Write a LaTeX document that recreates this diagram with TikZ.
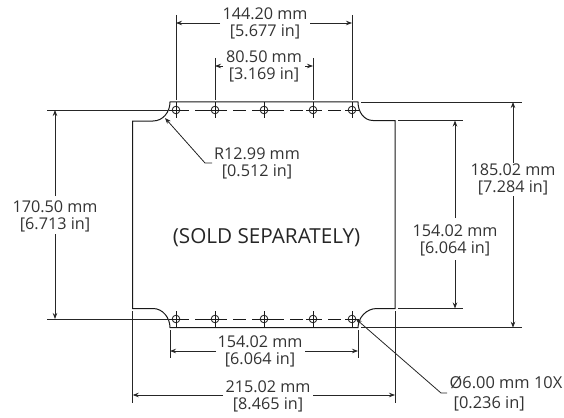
\documentclass[tikz,border=0pt]{standalone}
\usepackage{fontspec}
\setmainfont{Open Sans}
\usetikzlibrary{arrows.meta}
\tikzset{
  x=1pt,y=-1pt,
  outline/.style={line width=1pt,black!90},
  thin line/.style={line width=.8pt,black!85},
  dim/.style={thin line,-{Stealth[length=6pt,width=4.5pt]}},
  hole/.style={line width=.8pt,black!90},
  dimtext/.style={font=\fontsize{16.2}{17}\selectfont,text=black!80,align=center,inner sep=0pt},
}
\begin{document}
\begin{tikzpicture}
\useasboundingbox (0,0) rectangle (564,417);
% plate outline
\draw[outline] (132.7,121) -- (153,121) .. controls (163,121) and (170,112) .. (170,102) -- (358,102)
  .. controls (358,112) and (364,120.5) .. (373,120.5) -- (395,120.5) -- (395,308.5) -- (377,308.5)
  .. controls (366,308.5) and (358,318) .. (358,327.7) -- (170,327.7)
  .. controls (170,318) and (163,308.5) .. (153,308.5) -- (132.7,308.5) -- cycle;
% hole rows
\foreach \ry/\ya/\yb in {110/102/118,319/311/328}{
  \draw[hole,dash pattern=on 13pt off 6pt] (176,\ry) -- (352,\ry);
  \foreach \hx in {176,215,264,313,352}{
    \draw[hole] (\hx,\ry) circle[radius=3.8];
    \draw[hole] (\hx-7,\ry) -- (\hx+7,\ry) (\hx,\ya) -- (\hx,\yb);
  }
}
% extension lines
\draw[thin line] (47,110) -- (168,110) (47,319) -- (168,319);
\draw[thin line] (361,102) -- (522,102) (361,327.7) -- (522,327.7);
\draw[thin line] (398,120.5) -- (463,120.5) (398,308.5) -- (463,308.5);
\draw[thin line] (176,15) -- (176,100) (352,15) -- (352,100);
\draw[thin line] (215,58) -- (215,100) (313,58) -- (313,100);
\draw[thin line] (170,330) -- (170,358) (358,330) -- (358,358);
\draw[thin line] (132.7,311) -- (132.7,403) (395,311) -- (395,403);
% dimension texts
\node[dimtext] (d144) at (265,23.5) {144.20 mm\\{}[5.677 in]};
\node[dimtext] (d80) at (264,66) {80.50 mm\\{}[3.169 in]};
\node[dimtext] (dr) at (257,163) {R12.99 mm\\{}[0.512 in]};
\node[dimtext] (d170) at (55,216) {170.50 mm\\{}[6.713 in]};
\node[dimtext] (d185) at (513,179) {185.02 mm\\{}[7.284 in]};
\node[dimtext] (d154v) at (455,240) {154.02 mm\\{}[6.064 in]};
\node[dimtext] (d154h) at (260,351) {154.02 mm\\{}[6.064 in]};
\node[dimtext] (d215) at (268,396) {215.02 mm\\{}[8.465 in]};
\node[dimtext,align=left,anchor=west,font=\fontsize{16.4}{20}\selectfont] (dhole) at (449.5,394) {Ø6.00 mm 10X\\\hspace{4pt}[0.236 in]};
\node[font=\fontsize{20.7}{22}\selectfont,text=black!85,inner sep=0pt] (sold) at (266.5,238) {(SOLD SEPARATELY)};
% dimension arrows
\draw[dim] (220,23) -- (176,23);
\draw[dim] (310,23) -- (352,23);
\draw[dim] (223,66) -- (215,66);
\draw[dim] (305,66) -- (313,66);
\draw[dim] (216,351) -- (170,351);
\draw[dim] (305,351) -- (358,351);
\draw[dim] (223,395) -- (132.7,395);
\draw[dim] (313,395) -- (395,395);
\draw[dim] (55,196) -- (55,110);
\draw[dim] (55,234) -- (55,319);
\draw[dim] (513,163) -- (513,102);
\draw[dim] (513,196) -- (513,327.7);
\draw[dim] (455,218) -- (455,120.5);
\draw[dim] (455,260) -- (455,308.5);
% leaders
\draw[thin line,{Stealth[length=6pt,width=4.5pt]}-] (165,118) -- (205,163) -- (212,163);
\draw[thin line,{Stealth[length=6pt,width=4.5pt]}-] (356,319) -- (441,393) -- (447,393);
\end{tikzpicture}
\end{document}
